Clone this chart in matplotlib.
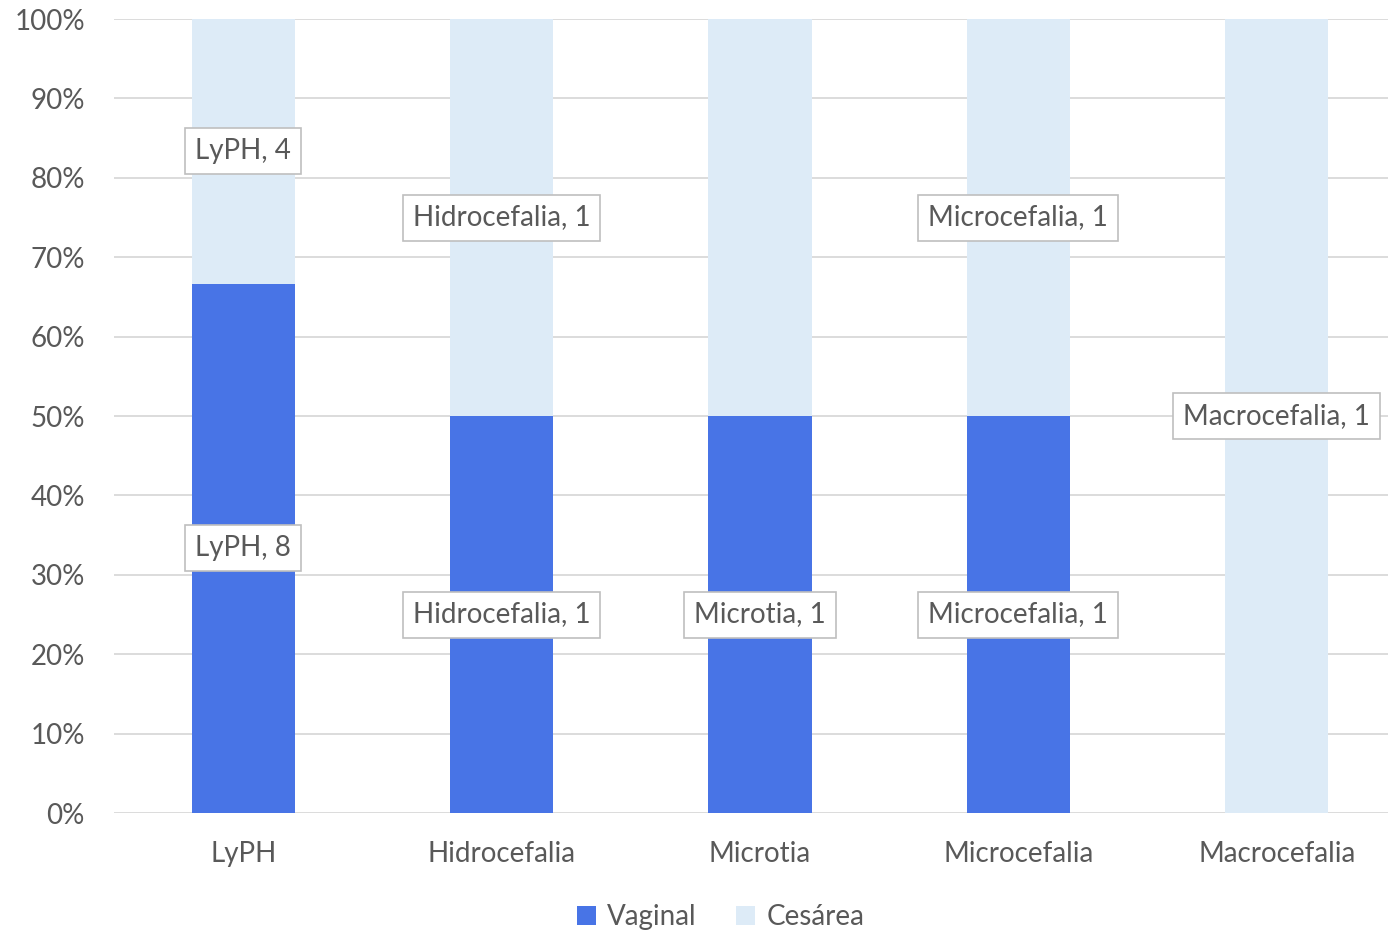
import matplotlib
matplotlib.use("Agg")
import matplotlib.pyplot as plt
import numpy as np

categories = ["LyPH", "Hidrocefalia", "Microtia", "Microcefalia", "Macrocefalia"]
vaginal = [8, 1, 1, 1, 0]
cesarea = [4, 1, 1, 1, 1]
vaginal_labels = ["LyPH, 8", "Hidrocefalia, 1", "Microtia, 1", "Microcefalia, 1", None]
cesarea_labels = ["LyPH, 4", "Hidrocefalia, 1", None, "Microcefalia, 1", "Macrocefalia, 1"]
yticks = [0, 10, 20, 30, 40, 50, 60, 70, 80, 90, 100]

plt.rcParams['font.family'] = ['Lato', 'DejaVu Sans']
txt = '#595959'
fs = 20

fig = plt.figure(figsize=(13.88, 9.33), dpi=100)
ax = fig.add_axes([114/1388, 120/933, (1406-114)/1388, (813-19)/933])

v = np.array(vaginal, float)
c = np.array(cesarea, float)
tot = v + c
vp = v / tot * 100
cp = c / tot * 100
x = np.arange(len(categories))
w = 0.4
ax.bar(x, vp, w, color='#4874E6', label='Vaginal', zorder=3)
ax.bar(x, cp, w, bottom=vp, color='#DDEBF7', label='Cesárea', zorder=3)

box = dict(boxstyle='square,pad=0.36', fc='white', ec='#BFBFBF', lw=1.2)
for i in range(len(categories)):
    if vaginal_labels[i] and vp[i] > 0:
        ax.text(x[i], vp[i] / 2, vaginal_labels[i], ha='center', va='center',
                fontsize=fs, color=txt, bbox=box, zorder=5)
    if cesarea_labels[i] and cp[i] > 0:
        ax.text(x[i], vp[i] + cp[i] / 2, cesarea_labels[i], ha='center', va='center',
                fontsize=fs, color=txt, bbox=box, zorder=5)

ax.set_xlim(-0.5, len(categories) - 0.5)
ax.set_ylim(0, 100)
ax.set_yticks(yticks)
ax.set_yticklabels([f"{t}%" for t in yticks])
ax.set_xticks(x)
ax.set_xticklabels(categories)
ax.tick_params(axis='both', length=0, labelsize=fs, colors=txt)
ax.tick_params(axis='y', pad=21)
ax.tick_params(axis='x', pad=20)
ax.grid(axis='y', color='#D9D9D9', lw=1.3, zorder=0)
for s in ax.spines.values():
    s.set_visible(False)

leg = fig.legend(loc='center', bbox_to_anchor=(0.519, 1 - 917/933), ncol=2, frameon=False,
                 fontsize=fs, handlelength=0.7, handleheight=0.7, handletextpad=0.4,
                 columnspacing=1.4)
for t in leg.get_texts():
    t.set_color(txt)

fig.savefig("out.png", dpi=100)
